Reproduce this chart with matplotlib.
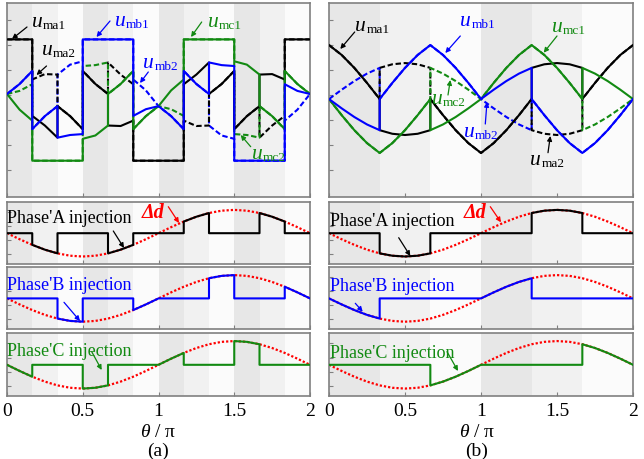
import matplotlib
matplotlib.use('Agg')
import matplotlib.pyplot as plt
from matplotlib.patches import FancyArrowPatch

plt.rcParams['font.family'] = ['Liberation Serif', 'DejaVu Serif']
plt.rcParams['mathtext.fontset'] = 'custom'
plt.rcParams['mathtext.rm'] = 'Liberation Serif'
plt.rcParams['mathtext.it'] = 'Liberation Serif:italic'
plt.rcParams['mathtext.bf'] = 'Liberation Serif:bold'

# ---------------- data ----------------
# sample angles, in units of pi (0 .. 2, step pi/12)
theta = [i / 12 for i in range(25)]

# (a): 12 sectors of pi/6, 3 samples per sector (start, mid, end)
a_ma1 = [1, 1, 1, -0.261, -0.420, -0.620, -0.100, -0.265, -0.480, 0.480, 0.265, 0.100,
         -0.420, -0.428, -0.339, -1, -1, -1, -1, -1, -1, 0.261, 0.420, 0.620,
         0.100, 0.265, 0.480, -0.480, -0.265, -0.100, 0.420, 0.428, 0.339, 1, 1, 1]
a_ma2 = [1, 1, 1, 0.339, 0.428, 0.420, -0.100, -0.265, -0.480, 0.480, 0.265, 0.100,
         0.620, 0.420, 0.261, -1, -1, -1, -1, -1, -1, -0.339, -0.428, -0.420,
         0.100, 0.265, 0.480, -0.480, -0.265, -0.100, -0.620, -0.420, -0.261, 1, 1, 1]
a_mb1 = [0.100, 0.265, 0.480, -0.480, -0.265, -0.100, -0.620, -0.576, -0.561, 1, 1, 1,
         1, 1, 1, -0.261, -0.151, -0.100, -0.100, -0.265, -0.480, 0.480, 0.265, 0.100,
         0.620, 0.576, 0.561, -1, -1, -1, -1, -1, -1, 0.261, 0.151, 0.100]
a_mb2 = [0.100, 0.265, 0.480, -0.480, -0.265, -0.100, 0.420, 0.584, 0.639, 1, 1, 1,
         1, 1, 1, 0.339, 0.159, -0.100, -0.100, -0.265, -0.480, 0.480, 0.265, 0.100,
         -0.420, -0.584, -0.639, -1, -1, -1, -1, -1, -1, -0.339, -0.159, 0.100]
a_mc1 = [0.100, -0.159, -0.339, -1, -1, -1, -1, -1, -1, -0.639, -0.584, -0.420,
         0.100, 0.265, 0.480, -0.480, -0.265, -0.100, -0.100, 0.159, 0.339, 1, 1, 1,
         1, 1, 1, 0.639, 0.584, 0.420, -0.100, -0.265, -0.480, 0.480, 0.265, 0.100]
a_mc2 = [0.100, 0.151, 0.261, -1, -1, -1, -1, -1, -1, 0.561, 0.576, 0.620,
         0.100, 0.265, 0.480, -0.480, -0.265, -0.100, -0.100, -0.151, -0.261, 1, 1, 1,
         1, 1, 1, -0.561, -0.576, -0.620, -0.100, -0.265, -0.480, 0.480, 0.265, 0.100]

# (b): 6 sectors of pi/3, 5 samples per sector
b_ma1 = [1.5, 1.225, 0.866, 0.448, 0, -0.866, -0.966, -1, -0.966, -0.866,
         0, -0.448, -0.866, -1.225, -1.5, -1.5, -1.225, -0.866, -0.448, 0,
         0.866, 0.966, 1, 0.966, 0.866, 0, 0.448, 0.866, 1.225, 1.5]
b_ma2 = [1.5, 1.225, 0.866, 0.448, 0, 0.866, 0.966, 1, 0.966, 0.866,
         0, -0.448, -0.866, -1.225, -1.5, -1.5, -1.225, -0.866, -0.448, 0,
         -0.866, -0.966, -1, -0.966, -0.866, 0, 0.448, 0.866, 1.225, 1.5]
b_mb1 = [0, -0.259, -0.5, -0.707, -0.866, 0, 0.448, 0.866, 1.225, 1.5,
         1.5, 1.225, 0.866, 0.448, 0, 0, 0.259, 0.5, 0.707, 0.866,
         0, -0.448, -0.866, -1.225, -1.5, -1.5, -1.225, -0.866, -0.448, 0]
b_mb2 = [0, 0.259, 0.5, 0.707, 0.866, 0, 0.448, 0.866, 1.225, 1.5,
         1.5, 1.225, 0.866, 0.448, 0, 0, -0.259, -0.5, -0.707, -0.866,
         0, -0.448, -0.866, -1.225, -1.5, -1.5, -1.225, -0.866, -0.448, 0]
b_mc1 = [0, -0.448, -0.866, -1.225, -1.5, -1.5, -1.225, -0.866, -0.448, 0,
         -0.866, -0.707, -0.5, -0.259, 0, 0, 0.448, 0.866, 1.225, 1.5,
         1.5, 1.225, 0.866, 0.448, 0, 0.866, 0.707, 0.5, 0.259, 0]
b_mc2 = [0, -0.448, -0.866, -1.225, -1.5, -1.5, -1.225, -0.866, -0.448, 0,
         0.866, 0.707, 0.5, 0.259, 0, 0, 0.448, 0.866, 1.225, 1.5,
         1.5, 1.225, 0.866, 0.448, 0, -0.866, -0.707, -0.5, -0.259, 0]

# injection signal delta d (normalised), at every theta sample
delta_d = [0, -0.259, -0.5, -0.707, -0.866, -0.966, -1, -0.966, -0.866, -0.707, -0.5, -0.259,
           0, 0.259, 0.5, 0.707, 0.866, 0.966, 1, 0.966, 0.866, 0.707, 0.5, 0.259, 0]

# sectors (1-based) where each phase carries the injection
inj_a_A = [2, 5, 8, 11]
inj_a_B = [3, 6, 9, 12]
inj_a_C = [1, 4, 7, 10]
inj_b_A = [2, 5]
inj_b_B = [1, 4]
inj_b_C = [3, 6]

xtick_vals = [0, 0.5, 1, 1.5, 2]
xtick_labels = ['0', '0.5', '1', '1.5', '2']

# ---------------- style ----------------
W, H = 644, 459
BLACK, BLUE, GREEN, RED = '#000000', '#0000ff', '#128a12', '#ff0000'
BAND = ['#e7e7e7', '#f1f1f1', '#fbfbfb']
FRAME = '#808080'
LW = 1.5
DASH = (0, (2.6, 1.3))
DOT = (0, (1.0, 0.9))


def sector_xy(values, npts):
    nsec = len(values) // npts
    step = npts - 1
    xs, ys = [], []
    for k in range(nsec):
        idx = range(k * step, k * step + npts)
        xs += [theta[i] for i in idx]
        ys += values[k * npts:(k + 1) * npts]
    return xs, ys


def inj_xy(sectors, nsec, npts):
    step = npts - 1
    xs, ys = [], []
    for k in range(nsec):
        idx = list(range(k * step, k * step + npts))
        xs += [theta[i] for i in idx]
        if (k + 1) in sectors:
            ys += [delta_d[i] for i in idx]
        else:
            ys += [0] * npts
    return xs, ys


fig = plt.figure(figsize=(W / 100, H / 100), dpi=100)


def fx(x):
    return x / W


def fy(y):
    return 1 - y / H


def make_ax(x0, x1, y0, y1):
    ax = fig.add_axes([fx(x0), fy(y1), (x1 - x0) / W, (y1 - y0) / H])
    ax.set_xlim(0, 2)
    for s in ax.spines.values():
        s.set_color(FRAME)
        s.set_linewidth(1.2)
    ax.tick_params(direction='in', length=3, width=0.8, color=FRAME,
                   labelbottom=False, labelleft=False)
    ax.set_xticks(xtick_vals)
    return ax


def bands(ax, nsec):
    w = 2 / nsec
    for k in range(nsec):
        ax.axvspan(k * w, (k + 1) * w, color=BAND[k % 3], lw=0, zorder=0)


cols = [(7, 310), (329, 633)]
rows_small = [(201.5, 263.5), (266.7, 328.7), (332.5, 395.7)]

# ---- top panels ----
tops = []
for ci, (x0, x1) in enumerate(cols):
    ax = make_ax(x0, x1, 3, 196.5)
    tops.append(ax)

ax = tops[0]
bands(ax, 12)
ax.set_ylim(-1.59, 1.6)
ax.set_yticks([1.32, 0.91, 0.49, 0.08, -0.33, -0.74, -1.15])
for vals, c in [(a_mb2, BLUE), (a_ma2, BLACK), (a_mc2, GREEN)]:
    xs, ys = sector_xy(vals, 3)
    ax.plot(xs, ys, color=c, lw=LW, ls=DASH, zorder=2)
for vals, c in [(a_ma1, BLACK), (a_mc1, GREEN), (a_mb1, BLUE)]:
    xs, ys = sector_xy(vals, 3)
    ax.plot(xs, ys, color=c, lw=LW, zorder=3)

ax = tops[1]
bands(ax, 6)
ax.set_ylim(-2.71, 2.67)
ax.set_yticks([2.19, 1.5, 0.81, 0.11, -0.58, -1.28, -1.97])
for vals, c in [(b_mb2, BLUE), (b_ma2, BLACK), (b_mc2, GREEN)]:
    xs, ys = sector_xy(vals, 5)
    ax.plot(xs, ys, color=c, lw=LW, ls=DASH, zorder=2)
for vals, c in [(b_ma1, BLACK), (b_mc1, GREEN), (b_mb1, BLUE)]:
    xs, ys = sector_xy(vals, 5)
    ax.plot(xs, ys, color=c, lw=LW, zorder=3)

# ---- injection panels ----
inj_sets = [[(inj_a_A, BLACK), (inj_a_B, BLUE), (inj_a_C, GREEN)],
            [(inj_b_A, BLACK), (inj_b_B, BLUE), (inj_b_C, GREEN)]]
nsecs = [12, 6]
npts = [3, 5]
for ci, (x0, x1) in enumerate(cols):
    for ri, (y0, y1) in enumerate(rows_small):
        ax = make_ax(x0, x1, y0, y1)
        bands(ax, nsecs[ci])
        ax.set_ylim(-1.3, 1.36)
        ax.set_yticks([-0.9, -0.3, 0.3, 0.9])
        ax.plot(theta, delta_d, color=RED, lw=1.6, ls=DOT, zorder=2)
        sec, c = inj_sets[ci][ri]
        xs, ys = inj_xy(sec, nsecs[ci], npts[ci])
        ax.plot(xs, ys, color=c, lw=LW, zorder=3)
        if ri == 2:
            ax.tick_params(labelbottom=True, pad=5, labelsize=14)
            ax.set_xticklabels(xtick_labels)


# ---------------- texts ----------------
def label(x, y, s, c, size=14, **kw):
    fig.text(fx(x), fy(y), s, color=c, fontsize=size, ha='left', va='baseline', **kw)


def ulabel(x, y, sub, c):
    # italic u with upright subscript
    fig.text(fx(x), fy(y), 'u', color=c, fontsize=15.5, fontstyle='italic',
             ha='left', va='baseline')
    fig.text(fx(x + 11), fy(y + 2), sub, color=c, fontsize=9.5,
             ha='left', va='baseline')


def arrow(xa, ya, xb, yb, c):
    fig.add_artist(FancyArrowPatch((fx(xa), fy(ya)), (fx(xb), fy(yb)),
                                   transform=fig.transFigure, arrowstyle='-|>',
                                   mutation_scale=7, lw=0.9, color=c,
                                   shrinkA=0, shrinkB=0, zorder=10))


# (a) top
ulabel(31.5, 26.7, 'ma1', BLACK)
arrow(27, 27, 12, 39, BLACK)
ulabel(41.5, 55, 'ma2', BLACK)
arrow(46.5, 66, 36.5, 75, BLACK)
ulabel(115, 26, 'mb1', BLUE)
arrow(110, 21, 96.5, 37, BLUE)
ulabel(143.3, 68.3, 'mb2', BLUE)
arrow(148.3, 72, 140, 83, BLUE)
ulabel(208, 26.7, 'mc1', GREEN)
arrow(201.7, 22, 191, 37, GREEN)
ulabel(251.7, 159.3, 'mc2', GREEN)
arrow(250.7, 146.7, 240.7, 135, GREEN)

# (b) top
ulabel(355.3, 30.7, 'ma1', BLACK)
arrow(354.7, 32, 340.3, 49, BLACK)
ulabel(460.3, 26, 'mb1', BLUE)
arrow(460.3, 36, 445.3, 53, BLUE)
ulabel(552, 31.7, 'mc1', GREEN)
arrow(557, 36, 543.7, 52.7, GREEN)
ulabel(432, 104, 'mc2', GREEN)
arrow(448, 95, 450.3, 80, GREEN)
ulabel(463.7, 136.7, 'mb2', BLUE)
arrow(485.3, 124, 487, 102, BLUE)
ulabel(530.3, 165, 'ma2', BLACK)
arrow(548, 152.7, 550.3, 136, BLACK)

# (a) injection panels
label(7.3, 223.3, "Phase'A injection", BLACK, 13)
arrow(113.3, 231, 124, 248, BLACK)
label(141.7, 217.7, 'Δd', RED, 14.5, fontweight='bold', fontstyle='italic')
arrow(168.3, 206.7, 179, 223, RED)
label(7.3, 290, "Phase'B injection", BLUE, 13)
arrow(64, 302.3, 80, 321, BLUE)
label(7.3, 355.7, "Phase'C injection", GREEN, 13)
arrow(91.7, 351.7, 101.7, 370, GREEN)

# (b) injection panels
label(330.3, 225.5, "Phase'A injection", BLACK, 13)
arrow(398.7, 237.7, 410.3, 256, BLACK)
label(463.7, 218.3, 'Δd', RED, 14.5, fontweight='bold', fontstyle='italic')
arrow(490.3, 206.7, 501, 222.3, RED)
label(330.3, 291, "Phase'B injection", BLUE, 13)
arrow(355.3, 303.3, 362.7, 311.7, BLUE)
label(330.3, 357.7, "Phase'C injection", GREEN, 13)
arrow(447, 351.7, 458, 371, GREEN)

# axis titles
for xc, tag in [(158, '(a)'), (477, '(b)')]:
    fig.text(fx(xc), fy(437), r'$\theta\ /\ \mathrm{\pi}$', fontsize=14,
             ha='center', va='baseline')
    fig.text(fx(xc), fy(455.5), tag, fontsize=14, ha='center', va='baseline')

fig.savefig('out.png', dpi=100)
